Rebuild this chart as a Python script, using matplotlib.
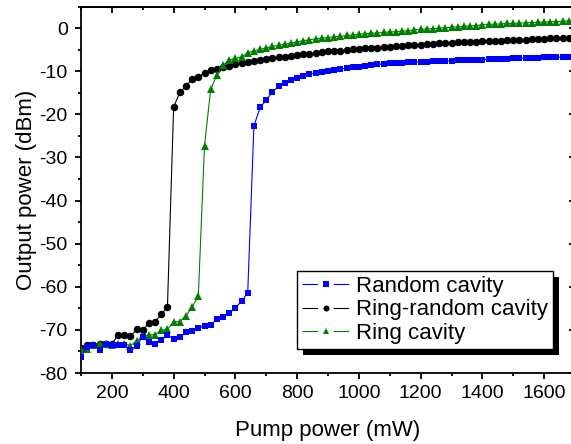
import numpy as np
import matplotlib
matplotlib.use("Agg")
import matplotlib.pyplot as plt
from matplotlib.lines import Line2D
from matplotlib.patches import Rectangle

plt.rcParams['font.family'] = ['Liberation Sans', 'DejaVu Sans']
plt.rcParams['axes.unicode_minus'] = False

# -----------------------------
# Data
# -----------------------------
pump = np.arange(100, 1701, 20)

ring_random = [
    -74.3, -73.6, -73.4, -73.3, -73.2, -73.3, -71.1, -71.2, -71.5, -69.9,
    -70.0, -68.5, -68.1, -66.4, -64.7, -18.3, -14.9, -13.5, -11.8, -11.4,
    -10.4, -9.7, -9.5, -9.1, -8.7, -8.4, -8.0, -7.8, -7.6, -7.4,
    -7.2, -7.0, -6.8, -6.7, -6.5, -6.3, -6.1, -5.9, -5.8, -5.6,
    -5.4, -5.3, -5.2, -5.1, -4.9, -4.8, -4.7, -4.6, -4.5, -4.4,
    -4.3, -4.2, -4.1, -4.0, -3.9, -3.8, -3.7, -3.6, -3.5, -3.4,
    -3.4, -3.3, -3.2, -3.2, -3.1, -3.0, -3.0, -2.9, -2.9, -2.8,
    -2.8, -2.7, -2.7, -2.6, -2.5, -2.5, -2.4, -2.3, -2.3, -2.2,
    -2.2,
]

ring = [
    -74.5, -74.5, -73.4, -73.2, -73.2, -73.4, -73.2, -73.2, -73.7, -72.5,
    -71.5, -71.2, -71.1, -70.1, -69.9, -68.1, -68.1, -66.7, -64.7, -62.2,
    -27.3, -14.2, -10.9, -8.6, -7.4, -7.0, -6.7, -5.7, -5.3, -4.9,
    -4.6, -4.2, -4.0, -3.7, -3.5, -3.2, -2.9, -2.7, -2.5, -2.3,
    -2.2, -2.0, -1.9, -1.7, -1.6, -1.4, -1.3, -1.2, -1.1, -1.0,
    -0.9, -0.8, -0.7, -0.6, -0.4, -0.3, -0.2, -0.1, 0.0, 0.1,
    0.2, 0.3, 0.4, 0.5, 0.6, 0.8, 0.9, 0.9, 1.0, 1.1,
    1.1, 1.2, 1.2, 1.3, 1.4, 1.4, 1.5, 1.5, 1.6, 1.7,
    1.7,
]

random_cav = [
    -76.3, -73.9, -73.6, -74.6, -73.2, -73.4, -73.6, -73.6, -74.6, -73.7,
    -71.6, -72.8, -73.2, -72.4, -71.2, -72.0, -71.7, -70.6, -70.3, -69.5,
    -69.1, -68.8, -67.5, -67.1, -66.1, -64.9, -63.3, -61.4, -22.7, -18.4,
    -16.7, -14.8, -13.5, -12.7, -12.1, -11.5, -11.1, -10.7, -10.4, -10.2,
    -9.9, -9.7, -9.5, -9.3, -9.1, -8.9, -8.7, -8.6, -8.4, -8.3,
    -8.2, -8.1, -8.0, -7.9, -7.9, -7.8, -7.8, -7.7, -7.7, -7.6,
    -7.6, -7.5, -7.4, -7.4, -7.3, -7.3, -7.2, -7.2, -7.1, -7.1,
    -7.0, -7.0, -7.0, -6.9, -6.9, -6.8, -6.8, -6.8, -6.7, -6.7,
    -6.6,
]

labels = ["Random cavity", "Ring-random cavity", "Ring cavity"]
colors = ["#0000ff", "#000000", "#008000"]
markers = ["s", "o", "^"]
msizes = [4.8, 5.4, 6.0]

# -----------------------------
# Figure
# -----------------------------
W, H = 571, 444
fig = plt.figure(figsize=(W / 100, H / 100), dpi=100)
ax = fig.add_axes([81 / W, 71 / H, 494 / W, 366.4 / H])

series = [random_cav, ring_random, ring]
# draw order: black, green, blue on top
for idx in [1, 2, 0]:
    ax.plot(pump, series[idx], color=colors[idx], lw=0.8,
            marker=markers[idx], ms=msizes[idx], mew=0,
            zorder=3 + (idx == 0))

ax.set_xlim(100, 1700)
ax.set_ylim(-80, 5)
ax.set_xticks(np.arange(200, 1601, 200))
ax.set_xticks(np.arange(100, 1701, 100), minor=True)
ax.set_yticks(np.arange(-80, 1, 10))
ax.set_yticks(np.arange(-80, 6, 5), minor=True)

for s in ax.spines.values():
    s.set_linewidth(1.3)

ax.tick_params(which='both', direction='out', width=1.3, labelsize=14,
               top=False, right=False)
ax.tick_params(which='major', length=4.5)
ax.tick_params(which='minor', length=2.5)
ax.tick_params(axis='x', pad=4)
ax.tick_params(axis='y', pad=5)

# mirrored inward ticks on top / right
sec_x = ax.secondary_xaxis('top')
sec_x.set_xticks(np.arange(200, 1601, 200))
sec_x.set_xticks(np.arange(100, 1701, 100), minor=True)
sec_x.tick_params(which='both', direction='in', width=1.3, labeltop=False)
sec_x.tick_params(which='major', length=4.5)
sec_x.tick_params(which='minor', length=2.5)
sec_x.spines['top'].set_linewidth(1.3)
sec_y = ax.secondary_yaxis('right')
sec_y.set_yticks(np.arange(-80, 1, 10))
sec_y.set_yticks(np.arange(-80, 6, 5), minor=True)
sec_y.tick_params(which='both', direction='in', width=1.3, labelright=False)
sec_y.tick_params(which='major', length=4.5)
sec_y.tick_params(which='minor', length=2.5)

ax.set_xlabel("Pump power (mW)", fontsize=16, labelpad=13)
ax.set_ylabel("Output power (dBm)", fontsize=16, labelpad=2)

# -----------------------------
# Legend with broken handle lines and a hard shadow
# -----------------------------
handles = [Line2D([], [], color=c, lw=0.8, marker=m, ms=ms * 0.8, mew=0,
                  linestyle=(0, (14, 14, 14, 14)))
           for c, m, ms in zip(colors, markers, msizes)]
leg = ax.legend(handles, labels, loc='upper left',
                bbox_to_anchor=(296.7 / W, 1 - 270.7 / H),
                bbox_transform=fig.transFigure, borderaxespad=0,
                fontsize=16, handlelength=2.1, handletextpad=0.3,
                labelspacing=0.1, borderpad=0.25, numpoints=1,
                fancybox=False, framealpha=1, edgecolor='black')
leg.get_frame().set_linewidth(1.0)
leg.set_zorder(10)

fig.canvas.draw()
bb = leg.get_window_extent()
off = 6
shadow = Rectangle((bb.x0 + off, bb.y0 - off), bb.width, bb.height,
                   transform=None, facecolor='black', edgecolor='none',
                   zorder=9, clip_on=False)
ax.add_artist(shadow)

fig.savefig("out.png", dpi=100)
